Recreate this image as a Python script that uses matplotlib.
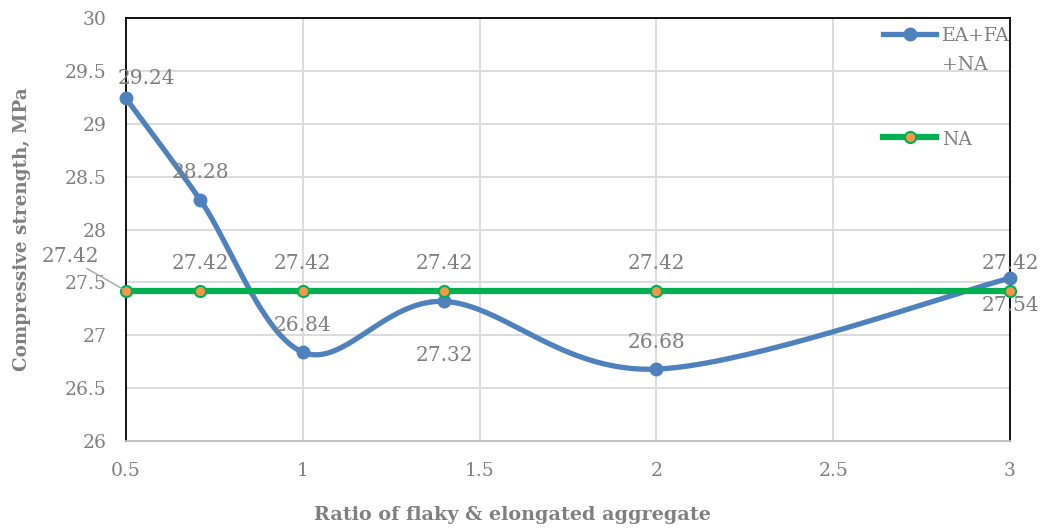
import numpy as np
import matplotlib
matplotlib.use("Agg")
import matplotlib.pyplot as plt

# data
ratio = [0.5, 0.71, 1.0, 1.4, 2.0, 3.0]
strength_mix = [29.24, 28.28, 26.84, 27.32, 26.68, 27.54]
strength_na = [27.42, 27.42, 27.42, 27.42, 27.42, 27.42]
label_mix = "EA+FA\n+NA"
label_na = "NA"

BLUE = "#4F81BD"
GREEN = "#00B050"
ORANGE = "#F79646"
GREY = "#7F7F7F"


def smooth(x, y, n=40):
    """Excel-like smoothed line: cubic Bezier segments (Catmull-Rom tangents)."""
    p = np.column_stack([x, y]).astype(float)
    p_ext = np.vstack([p[0], p, p[-1]])
    t = np.linspace(0, 1, n)[:, None]
    out = []
    for i in range(len(p) - 1):
        p0, p3 = p_ext[i + 1], p_ext[i + 2]
        c1 = p0 + (p_ext[i + 2] - p_ext[i]) / 6.0
        c2 = p3 - (p_ext[i + 3] - p_ext[i + 1]) / 6.0
        seg = ((1 - t) ** 3) * p0 + 3 * ((1 - t) ** 2) * t * c1 \
            + 3 * (1 - t) * t ** 2 * c2 + t ** 3 * p3
        out.append(seg)
    out = np.vstack(out)
    return out[:, 0], out[:, 1]


plt.rcParams['font.family'] = ['DejaVu Serif']

fig = plt.figure(figsize=(10.42, 5.30), dpi=100)
ax = fig.add_axes([0.1209, 0.1679, 0.8484, 0.7981])

xs, ys = smooth(ratio, strength_mix)
ax.plot(xs, ys, color=BLUE, lw=3.8, zorder=3, solid_capstyle="round")
ax.plot(ratio, strength_mix, "o", color=BLUE, ms=9, zorder=4, clip_on=False)
ax.plot(ratio, strength_na, color=GREEN, lw=4.5, zorder=5, marker="o", ms=8,
        mfc=ORANGE, mec=GREEN, mew=1.5, clip_on=False)

# legend proxies
ax.plot([], [], color=BLUE, lw=3.8, marker="o", ms=9, label=label_mix)
ax.plot([], [], color=GREEN, lw=4.5, marker="o", ms=8, mfc=ORANGE,
        mec=GREEN, mew=1.5, label=label_na)
handles, labels = ax.get_legend_handles_labels()
leg = ax.legend(handles, labels, loc="upper right", frameon=False,
                bbox_to_anchor=(1.012, 1.005), fontsize=13.5, labelcolor=GREY,
                handlelength=2.8, labelspacing=3.0, handletextpad=0.3,
                borderaxespad=0.2)
for txt in leg.get_texts():
    txt.set_linespacing(1.8)
# put the handle level with the first text line
for col in leg._legend_handle_box.get_children():
    for row in col.get_children():
        row.align = "top"

# data labels (offsets in points, label centre relative to point)
fs = 14.5
mix_offsets = [(15, 14), (0, 20), (0, 19.5), (0, -39), (0, 19), (0, -19.5)]
for x, y, (dx, dy) in zip(ratio, strength_mix, mix_offsets):
    ax.annotate(f"{y:.2f}", (x, y), xytext=(dx, dy), textcoords="offset points",
                ha="center", va="center", fontsize=fs, color=GREY, zorder=6)
for i, (x, y) in enumerate(zip(ratio, strength_na)):
    if i == 0:
        ax.annotate(f"{y:.2f}", (x, y), xytext=(-40, 25), textcoords="offset points",
                    ha="center", va="center", fontsize=fs, color=GREY, zorder=6,
                    annotation_clip=False,
                    arrowprops=dict(arrowstyle="-", color="#A6A6A6", lw=1,
                                    shrinkA=0, shrinkB=3,
                                    relpos=(0.7, 0.0)))
    else:
        ax.annotate(f"{y:.2f}", (x, y), xytext=(0, 20), textcoords="offset points",
                    ha="center", va="center", fontsize=fs, color=GREY, zorder=6)

ax.set_xlim(0.5, 3)
ax.set_ylim(26, 30)
ax.set_xticks([0.5, 1, 1.5, 2, 2.5, 3])
ax.set_xticklabels(["0.5", "1", "1.5", "2", "2.5", "3"])
ax.set_yticks(np.arange(26, 30.01, 0.5))
ax.set_yticklabels(["26", "26.5", "27", "27.5", "28", "28.5", "29", "29.5", "30"])
ax.tick_params(length=0, labelsize=13.5, labelcolor=GREY)
ax.tick_params(axis="y", pad=14)
ax.tick_params(axis="x", pad=15)
ax.grid(True, color="#D9D9D9", lw=1.3)
ax.set_axisbelow(True)
for s in ax.spines.values():
    s.set_color("black")
    s.set_linewidth(1.3)
ax.spines["bottom"].set_color("#BFBFBF")

ax.set_xlabel("Ratio of flaky & elongated aggregate", fontsize=13.8, fontweight="bold",
              color=GREY)
ax.set_ylabel("Compressive strength, MPa", fontsize=13.2, fontweight="bold",
              color=GREY)
ax.xaxis.set_label_coords(0.437, -0.153)
ax.yaxis.set_label_coords(-0.1075, 0.5)

fig.savefig("out.png", dpi=100)
